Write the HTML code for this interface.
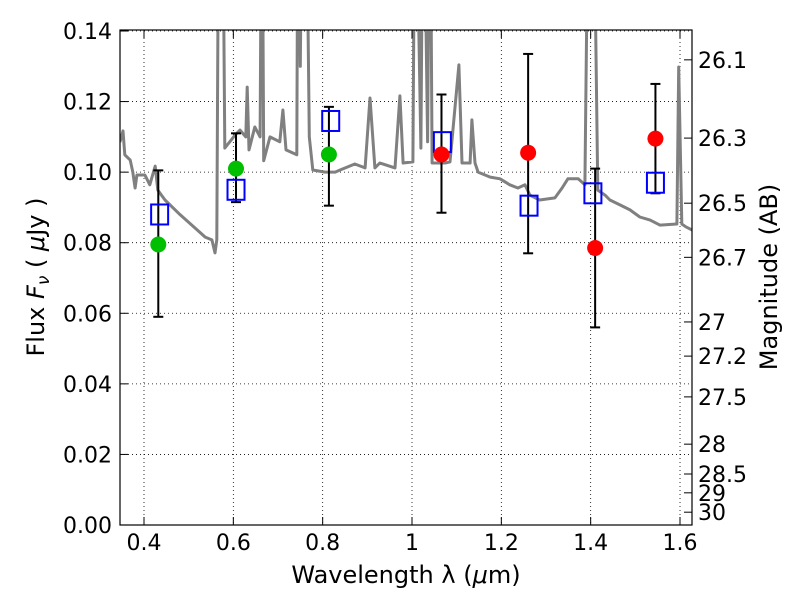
<!DOCTYPE html>
<html><head><meta charset="utf-8"><style>
body{margin:0;background:#fff}
svg{font-family:"DejaVu Sans","Liberation Sans",sans-serif}
</style></head><body>
<svg id="chart" width="800" height="600" viewBox="0 0 800 600" xmlns="http://www.w3.org/2000/svg">
<defs><clipPath id="clip"><rect x="120" y="30" width="572" height="495"/></clipPath></defs>
<rect x="0" y="0" width="800" height="600" fill="#fff"/>
<g id="grid"></g>
<g id="spec" clip-path="url(#clip)"></g>
<g id="marks" clip-path="url(#clip)"></g>
<rect x="120" y="30" width="572" height="495" fill="none" stroke="#000" stroke-width="1.2"/>
<g id="axes"></g>
<text x="406" y="583" font-size="24" text-anchor="middle">Wavelength  λ (<tspan font-style="italic">μ</tspan>m)</text>
<text transform="translate(44,277) rotate(-90)" font-size="24" text-anchor="middle">Flux  <tspan font-style="italic">F</tspan><tspan font-style="italic" font-size="17" dy="5">ν</tspan><tspan dy="-5">  ( <tspan font-style="italic">μ</tspan>Jy )</tspan></text>
<text transform="translate(777,277) rotate(-90)" font-size="24" text-anchor="middle">Magnitude (AB)</text>
</svg>
<script>
const specLam=[0.346,0.353,0.357,0.369,0.375,0.380,0.384,0.402,0.413,0.425,0.431,0.447,0.481,0.514,0.537,0.552,0.559,0.563,0.568,0.575,0.581,0.604,0.615,0.628,0.631,0.635,0.648,0.660,0.664,0.668,0.682,0.704,0.711,0.718,0.742,0.745,0.750,0.755,0.762,0.770,0.778,0.805,0.828,0.839,0.872,0.895,0.906,0.917,0.928,0.962,0.973,0.980,1.002,1.007,1.020,1.025,1.035,1.040,1.045,1.074,1.085,1.105,1.112,1.130,1.134,1.141,1.148,1.175,1.197,1.219,1.237,1.253,1.264,1.286,1.320,1.336,1.349,1.372,1.387,1.396,1.405,1.416,1.432,1.443,1.466,1.488,1.510,1.533,1.555,1.593,1.597,1.604,1.613,1.627];
const specFlux=[0.1085,0.1117,0.1049,0.1034,0.1000,0.0955,0.0992,0.0992,0.0964,0.1017,0.0949,0.0921,0.0879,0.0842,0.0816,0.0808,0.0771,0.0808,0.2,0.2,0.1068,0.1105,0.1119,0.1100,0.1241,0.1063,0.1128,0.1100,0.2,0.1032,0.1100,0.1086,0.1176,0.1063,0.1049,0.2,0.13,0.2,0.2,0.11,0.1006,0.1000,0.1000,0.1006,0.1023,0.1012,0.1210,0.1012,0.1026,0.1012,0.1216,0.1026,0.1029,0.2,0.1068,0.2,0.1086,0.2,0.1026,0.1026,0.1029,0.1304,0.1026,0.1026,0.1148,0.1026,0.1000,0.0986,0.0981,0.0964,0.0955,0.0964,0.0935,0.0921,0.0927,0.0955,0.0981,0.0981,0.0964,0.2,0.2,0.0949,0.0935,0.0921,0.0907,0.0893,0.0873,0.0864,0.0850,0.0853,0.1298,0.0853,0.0845,0.0836];
const obsLam=[0.432,0.606,0.814,1.066,1.260,1.410,1.545];
const obsFlux=[0.0795,0.101,0.105,0.105,0.1055,0.0785,0.1095];
const obsColor=['#00bf00','#00bf00','#00bf00','#ff0000','#ff0000','#ff0000','#ff0000'];
const errLo=[0.059,0.0915,0.0905,0.0885,0.077,0.056,0.094];
const errHi=[0.1005,0.111,0.1185,0.122,0.1335,0.101,0.125];
const modLam=[0.435,0.606,0.818,1.068,1.262,1.405,1.545];
const modFlux=[0.088,0.095,0.1145,0.1085,0.0905,0.094,0.097];
const xTicks=[0.4,0.6,0.8,1.0,1.2,1.4,1.6];
const xTickLabels=['0.4','0.6','0.8','1','1.2','1.4','1.6'];
const yTicks=[0,0.02,0.04,0.06,0.08,0.10,0.12,0.14];
const yTickLabels=['0.00','0.02','0.04','0.06','0.08','0.10','0.12','0.14'];
const magTicks=[26.1,26.3,26.5,26.7,27,27.2,27.5,28,28.5,29,30];

const NS='http://www.w3.org/2000/svg';
const X=l=>144+(l-0.4)*446.67;
const Y=f=>525-f*3528.6;
const magToFlux=m=>Math.pow(10,(23.9-m)/2.5);
function mk(tag,attrs,parent){const e=document.createElementNS(NS,tag);for(const k in attrs)e.setAttribute(k,attrs[k]);parent.appendChild(e);return e;}
const grid=document.getElementById('grid'),axes=document.getElementById('axes'),spec=document.getElementById('spec'),marks=document.getElementById('marks');
xTicks.forEach((t,i)=>{const x=X(t);
 const g=mk('line',{x1:x,x2:x,y1:30,y2:525,stroke:'#000','stroke-width':0.8,'stroke-dasharray':'1,3'},grid);
 
 const a=mk('line',{x1:x,x2:x,y1:525,y2:517,stroke:'#000'},axes);
 
 const b=mk('line',{x1:x,x2:x,y1:30,y2:38,stroke:'#000'},axes);
 
 const tx=mk('text',{x:x,y:550,'font-size':22,'text-anchor':'middle'},axes);tx.textContent=xTickLabels[i];
 });
yTicks.forEach((t,i)=>{const y=Y(t);
 const g=mk('line',{x1:120,x2:692,y1:y,y2:y,stroke:'#000','stroke-width':0.8,'stroke-dasharray':'1,3'},grid);
 
 const a=mk('line',{x1:120,x2:128,y1:y,y2:y,stroke:'#000'},axes);
 
 const tx=mk('text',{x:112,y:y+8,'font-size':22,'text-anchor':'end'},axes);tx.textContent=yTickLabels[i];
 });
magTicks.forEach(m=>{const y=Y(magToFlux(m));
 const a=mk('line',{x1:684,x2:692,y1:y,y2:y,stroke:'#000'},axes);
 
 const tx=mk('text',{x:698,y:y+8,'font-size':22},axes);tx.textContent=String(m);
 });
const p=mk('polyline',{points:specLam.map((l,i)=>X(l).toFixed(1)+','+Y(specFlux[i]).toFixed(1)).join(' '),fill:'none',stroke:'#808080','stroke-width':3,'stroke-linejoin':'round'},spec);

obsLam.forEach((l,i)=>{const x=X(l);
 const e=mk('g',{stroke:'#000','stroke-width':2},marks);
 
 mk('line',{x1:x,x2:x,y1:Y(errLo[i]),y2:Y(errHi[i])},e);
 mk('line',{x1:x-5,x2:x+5,y1:Y(errLo[i]),y2:Y(errLo[i])},e);
 mk('line',{x1:x-5,x2:x+5,y1:Y(errHi[i]),y2:Y(errHi[i])},e);});
modLam.forEach((l,i)=>{
 const r=mk('rect',{x:X(l)-8.5,y:Y(modFlux[i])-10,width:17,height:20,fill:'none',stroke:'#0000ff','stroke-width':2},marks);
 });
obsLam.forEach((l,i)=>{
 const c=mk('circle',{cx:X(l),cy:Y(obsFlux[i]),r:8,fill:obsColor[i]},marks);
 });
</script>
</body></html>
